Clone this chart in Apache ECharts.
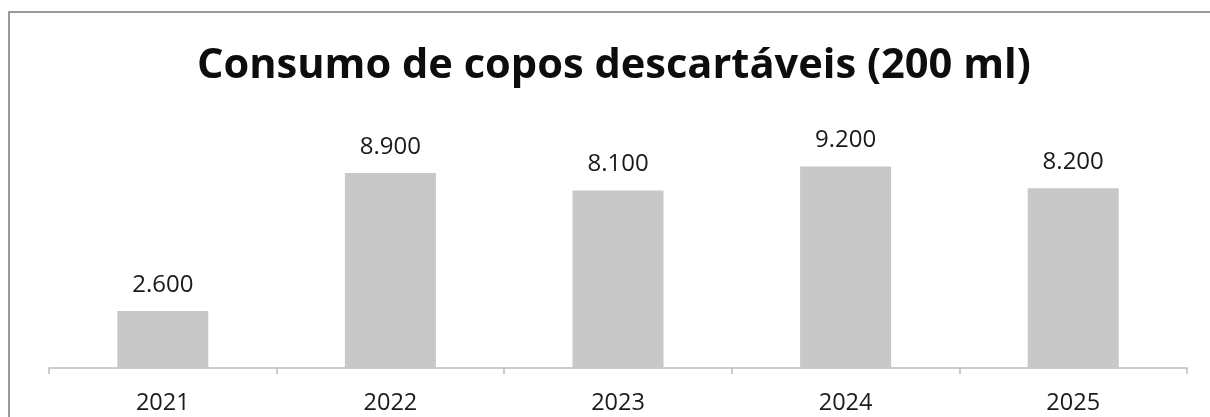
<!DOCTYPE html>
<html><head><meta charset="utf-8">
<script src="https://cdn.jsdelivr.net/npm/echarts@6/dist/echarts.min.js"></script>
<style>html,body{margin:0;padding:0;background:#fff}#c{width:1210px;height:417px}</style>
</head><body><div id="c"></div>
<script>
const categories = ['2021','2022','2023','2024','2025'];
const values = [2600, 8900, 8100, 9200, 8200];
const titleText = 'Consumo de copos descartáveis (200 ml)';

function fmt(v){ return String(v).replace(/\B(?=(\d{3})+(?!\d))/g,'.'); }

const chart = echarts.init(document.getElementById('c'), null, {renderer:'canvas'});
chart.setOption({
  animation:false,
  backgroundColor:'#fff',
  graphic:[{type:'rect',shape:{x:9,y:12,width:1220,height:430},style:{fill:'none',stroke:'#7a7a7a',lineWidth:1.5},silent:true,z:100}],
  title:{text:titleText,left:192,top:40,textStyle:{fontFamily:'Open Sans',fontWeight:'bold',fontSize:41.6,color:'#0d0d0d'}},
  grid:{left:49,right:23,top:127,bottom:49,containLabel:false},
  xAxis:{type:'category',data:categories,
    axisLine:{lineStyle:{color:'#bdbdbd',width:1.5}},
    axisTick:{show:true,length:6,lineStyle:{color:'#bdbdbd',width:1.5}},
    axisLabel:{fontFamily:'Open Sans',fontSize:23.5,color:'#1a1a1a',margin:23}},
  yAxis:{type:'value',min:0,max:11000,show:false,splitLine:{show:false}},
  series:[{type:'bar',data:values,barWidth:91,itemStyle:{color:'#c8c8c8'},
    label:{show:true,position:'top',distance:14,fontFamily:'Open Sans',fontSize:24,color:'#1a1a1a',formatter:p=>fmt(p.value)}}]
});
</script></body></html>
